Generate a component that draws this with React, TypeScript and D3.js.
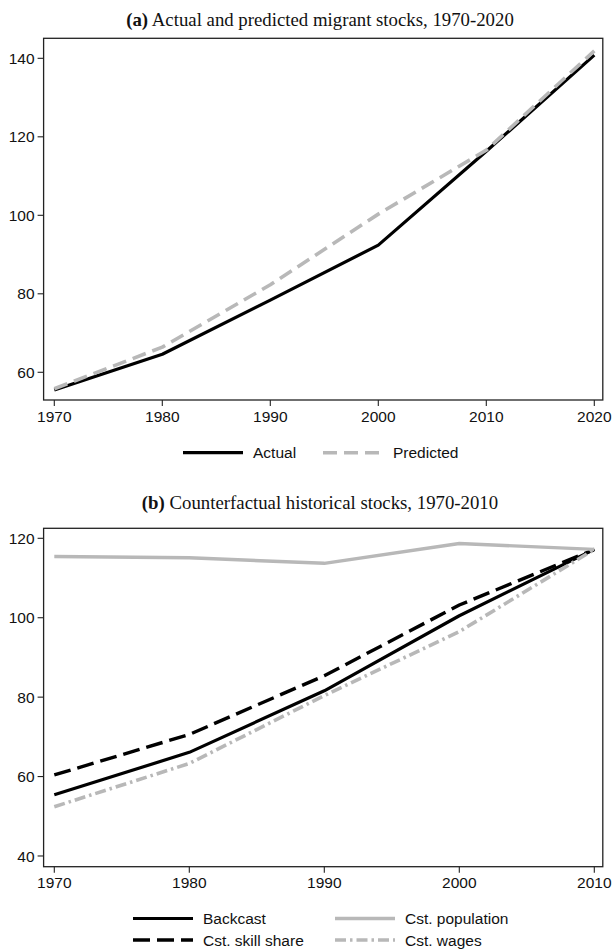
import React from "react";
import * as d3 from "d3";

// Panel (a)
const yearsA = [1970, 1980, 1990, 2000, 2010, 2020];
const actual = [55.5, 64.6, 78.4, 92.4, 116.3, 140.8];
const predicted = [55.8, 66.4, 82.3, 100.3, 116.6, 141.9];
const yTicksA = [60, 80, 100, 120, 140];

// Panel (b)
const yearsB = [1970, 1980, 1990, 2000, 2010];
const backcast = [55.4, 66.1, 81.6, 100.5, 117.2];
const skillShare = [60.4, 70.6, 85.4, 103.2, 117.2];
const population = [115.4, 115.1, 113.7, 118.7, 117.2];
const wages = [52.4, 63.3, 80.4, 96.5, 117.2];
const yTicksB = [40, 60, 80, 100, 120];

const titleA = "Actual and predicted migrant stocks, 1970-2020";
const titleB = "Counterfactual historical stocks, 1970-2010";

const GRAY = "#b8b8b8";
const SANS = "'Liberation Sans', Arial, sans-serif";
const SERIF = "'Liberation Serif', 'DejaVu Serif', serif";
const FS = 15.5;

type Series = { name: string; values: number[]; color: string; width: number; dash?: string };

function Panel(props: {
  top: number; bottom: number; domain: [number, number]; years: number[];
  yTicks: number[]; series: Series[];
}) {
  const { top, bottom, domain, years, yTicks, series } = props;
  const left = 43.6, right = 602.8;
  const x = d3.scaleLinear().domain([years[0], years[years.length - 1]]).range([54.3, 594.3]);
  const y = d3.scaleLinear().domain(domain).range([bottom, top]);
  const line = d3.line<number>().x((_, i) => x(years[i])).y((d) => y(d));
  return (
    <g>
      {series.map((s) => (
        <path key={s.name} d={line(s.values) || ""} fill="none" stroke={s.color}
          strokeWidth={s.width} strokeDasharray={s.dash} strokeLinejoin="round" />
      ))}
      <rect x={left} y={top} width={right - left} height={bottom - top} fill="none" stroke="#222" strokeWidth={1.3} />
      {yTicks.map((t) => (
        <g key={t}>
          <line x1={left - 6} x2={left} y1={y(t)} y2={y(t)} stroke="#222" strokeWidth={1.1} />
          <text x={left - 9} y={y(t)} dy="0.36em" textAnchor="end" fontFamily={SANS} fontSize={FS} fill="#111">{t}</text>
        </g>
      ))}
      {years.map((t) => (
        <g key={t}>
          <line x1={x(t)} x2={x(t)} y1={bottom} y2={bottom + 6} stroke="#222" strokeWidth={1.1} />
          <text x={x(t)} y={bottom + 21.5} textAnchor="middle" fontFamily={SANS} fontSize={FS} fill="#111">{t}</text>
        </g>
      ))}
    </g>
  );
}

function LegendItem(props: { x: number; y: number; s: Series; label: string }) {
  const { x, y, s, label } = props;
  return (
    <g>
      <line x1={x} x2={x + 60} y1={y} y2={y} stroke={s.color} strokeWidth={s.width} strokeDasharray={s.dash} />
      <text x={x + 70} y={y} dy="0.36em" fontFamily={SANS} fontSize={FS} fill="#111">{label}</text>
    </g>
  );
}

export default function App() {
  const sActual: Series = { name: "Actual", values: actual, color: "#000", width: 3.2 };
  const sPred: Series = { name: "Predicted", values: predicted, color: GRAY, width: 3.6, dash: "14 7" };
  const sBack: Series = { name: "Backcast", values: backcast, color: "#000", width: 3.2 };
  const sSkill: Series = { name: "Cst. skill share", values: skillShare, color: "#000", width: 3.4, dash: "17 7" };
  const sPop: Series = { name: "Cst. population", values: population, color: GRAY, width: 3.4 };
  const sWage: Series = { name: "Cst. wages", values: wages, color: GRAY, width: 3.6, dash: "11 4 2.5 4" };

  return (
    <svg width={613} height={950} style={{ position: "absolute", left: 0, top: 0, background: "#fff" }}>
      <rect x={0} y={0} width={613} height={950} fill="#fff" />
      <text x={320} y={26} textAnchor="middle" fontFamily={SERIF} fontSize={18.8} fill="#111">
        <tspan fontWeight="bold">(a)</tspan> {titleA}
      </text>
      <Panel top={38.3} bottom={400} domain={[52.94, 145.1]} years={yearsA} yTicks={yTicksA}
        series={[sActual, sPred]} />
      <LegendItem x={183} y={452.7} s={sActual} label="Actual" />
      <LegendItem x={323} y={452.7} s={sPred} label="Predicted" />

      <text x={320} y={509} textAnchor="middle" fontFamily={SERIF} fontSize={18.8} fill="#111">
        <tspan fontWeight="bold">(b)</tspan> {titleB}
      </text>
      <Panel top={528.3} bottom={866.7} domain={[37.3, 122.52]} years={yearsB} yTicks={yTicksB}
        series={[sBack, sSkill, sPop, sWage]} />
      <LegendItem x={133} y={918.5} s={sBack} label="Backcast" />
      <LegendItem x={133} y={940} s={sSkill} label="Cst. skill share" />
      <LegendItem x={335} y={918.5} s={sPop} label="Cst. population" />
      <LegendItem x={335} y={940} s={sWage} label="Cst. wages" />
    </svg>
  );
}
